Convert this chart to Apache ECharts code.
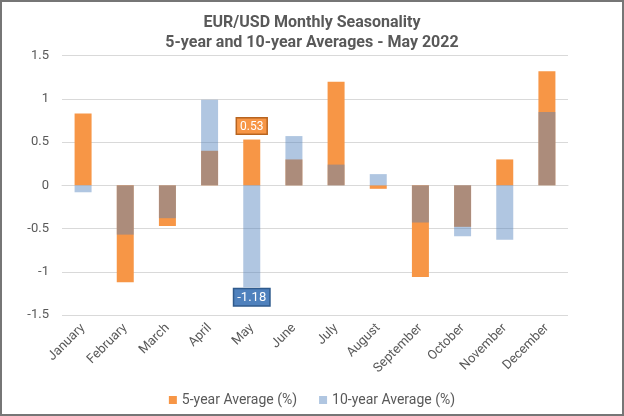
<!DOCTYPE html>
<html><head><meta charset="utf-8">
<script src="https://cdn.jsdelivr.net/npm/echarts@6/dist/echarts.min.js"></script>
<style>html,body{margin:0;padding:0;background:#fff}#c{width:624px;height:416px}</style>
</head><body><div id="c"></div>
<script>
const months = ['January','February','March','April','May','June','July','August','September','October','November','December'];
const fiveYear = [0.83, -1.12, -0.47, 0.40, 0.53, 0.30, 1.20, -0.04, -1.06, -0.48, 0.30, 1.32];
const tenYear = [-0.08, -0.57, -0.38, 0.99, -1.18, 0.57, 0.24, 0.13, -0.43, -0.59, -0.63, 0.85];
const yTicks = [-1.5, -1, -0.5, 0, 0.5, 1, 1.5];
const highlightIndex = 4;

const FONT = "'Liberation Sans Narrow', 'Roboto', sans-serif";
const chart = echarts.init(document.getElementById('c'));

const fiveData = fiveYear.map((v, i) => i === highlightIndex ? {
  value: v,
  label: {show: true, position: 'top', distance: 6, formatter: '{c}', color: '#fff', fontSize: 12,
    fontFamily: 'Roboto, sans-serif',
    backgroundColor: '#F79646', borderColor: '#B8641F', borderWidth: 1.5, padding: [2, 3, 1, 3]}
} : v);
const tenData = tenYear.map((v, i) => i === highlightIndex ? {
  value: v,
  label: {show: true, position: 'bottom', distance: 2, formatter: '{c}', color: '#fff', fontSize: 13,
    fontFamily: 'Roboto, sans-serif',
    backgroundColor: '#4F81BD', borderColor: '#2F5A8C', borderWidth: 1.5, padding: [2, 3, 1, 3]}
} : v);

chart.setOption({
  animation: false,
  graphic: [{type: 'rect', shape: {x: 1, y: 1, width: 622, height: 414}, style: {fill: 'none', stroke: '#767676', lineWidth: 2}, z: 100}],
  title: {
    text: 'EUR/USD Monthly Seasonality\n5-year and 10-year Averages - May 2022',
    left: 'center', top: 8,
    textStyle: {fontFamily: FONT, fontWeight: 'bold', fontSize: 16, color: '#595959', lineHeight: 20}
  },
  legend: {
    bottom: 4, left: 'center', itemWidth: 8, itemHeight: 8, itemGap: 22, icon: 'rect',
    textStyle: {fontFamily: FONT, fontSize: 14, color: '#595959'},
    data: ['5-year Average (%)', '10-year Average (%)']
  },
  grid: {left: 62, right: 56, top: 55.7, bottom: 101},
  xAxis: {
    type: 'category', data: months,
    axisLine: {show: true, onZero: true, lineStyle: {color: '#D9D9D9'}},
    axisTick: {show: false},
    axisLabel: {rotate: 45, interval: 0, color: '#595959', fontSize: 13, fontFamily: FONT, margin: 11}
  },
  yAxis: {
    type: 'value', min: yTicks[0], max: yTicks[yTicks.length - 1], interval: 0.5,
    axisLine: {show: false}, axisTick: {show: false},
    axisLabel: {color: '#595959', fontSize: 13, fontFamily: 'Roboto, sans-serif', margin: 13},
    splitLine: {lineStyle: {color: '#D9D9D9'}}
  },
  series: [
    {name: '5-year Average (%)', type: 'bar', data: fiveData, barWidth: 17, barGap: '-100%',
      itemStyle: {color: '#F79646'}},
    {name: '10-year Average (%)', type: 'bar', data: tenData, barWidth: 17, barGap: '-100%',
      itemStyle: {color: 'rgba(79,129,189,0.45)'}}
  ]
});
</script></body></html>
